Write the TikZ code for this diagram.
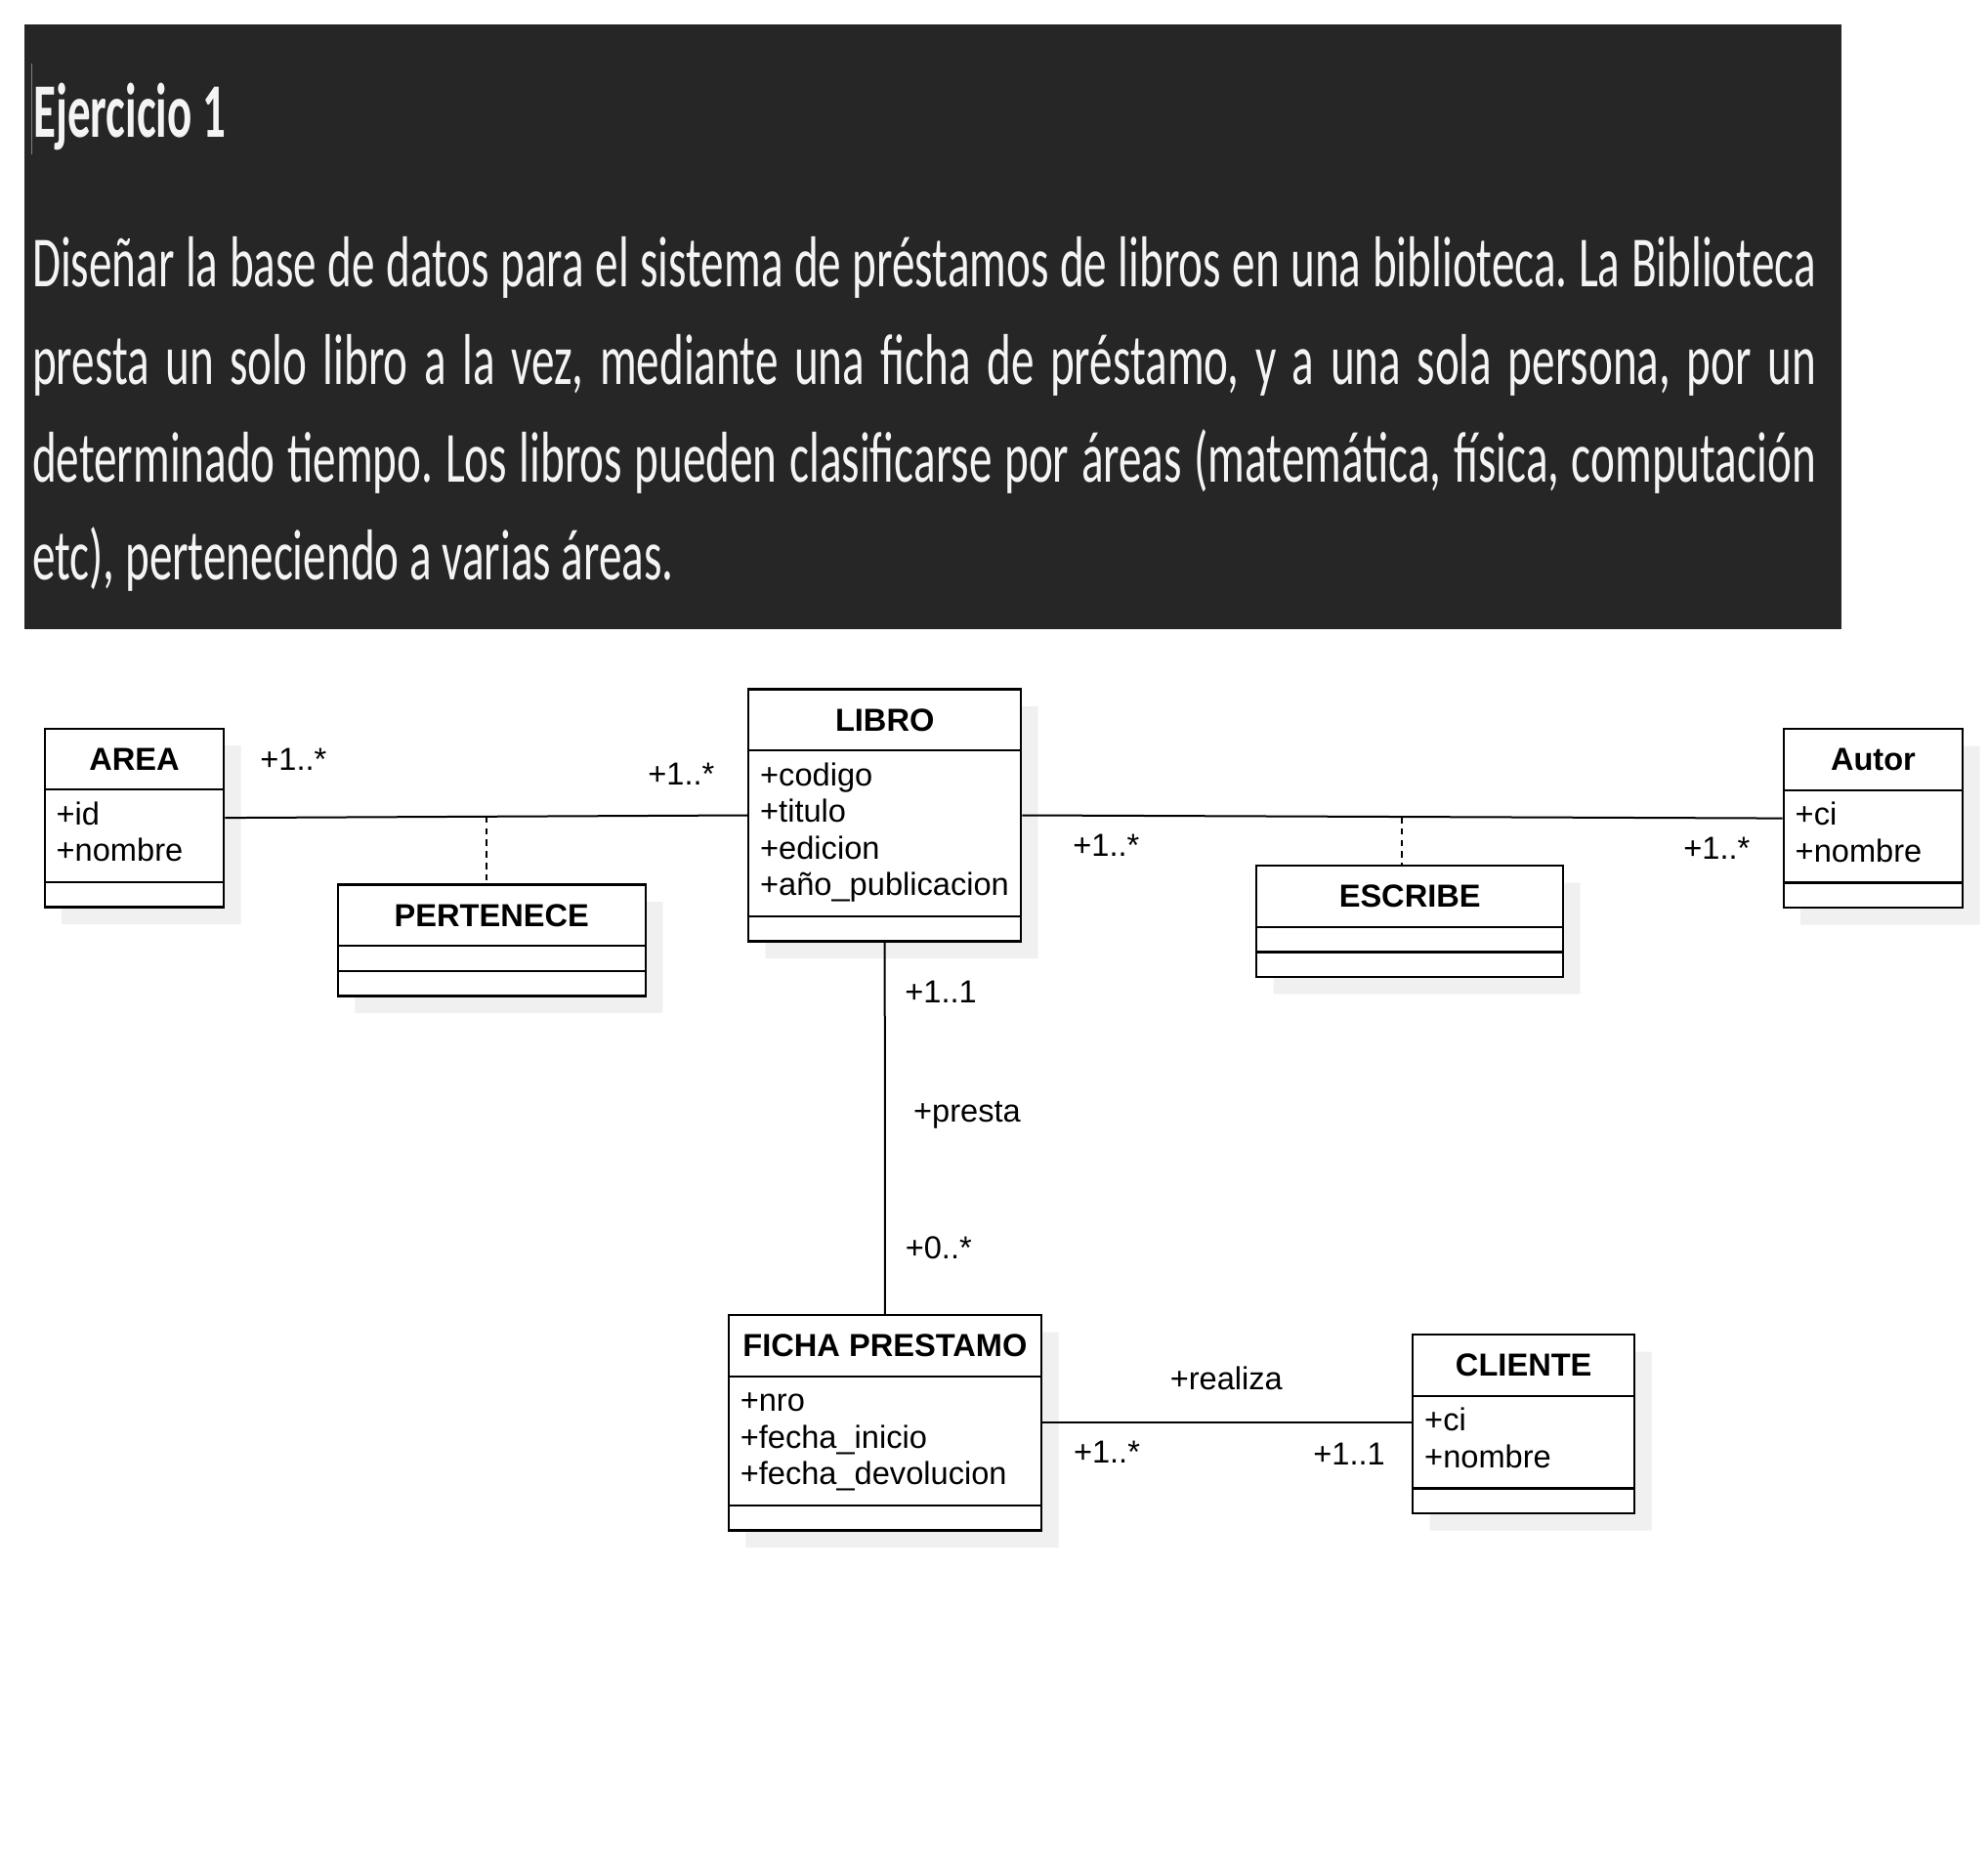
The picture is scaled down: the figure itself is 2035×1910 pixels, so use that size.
\documentclass[tikz,border=0pt]{standalone}
\usepackage{fontspec}
\setmainfont{Liberation Sans}
\newfontfamily\enunfont[FakeStretch=0.64]{Carlito}
\newfontfamily\titfont[FakeStretch=0.595]{Carlito}
\usetikzlibrary{shapes.multipart,shadows,calc}
\definecolor{headbg}{HTML}{262626}
\definecolor{headtxt}{HTML}{F4F4F4}
\newcommand{\ttlstrut}{\rule[-5.15pt]{0pt}{21.55pt}}
\newcommand{\emptystrut}{\rule{0pt}{3.15pt}}

\begin{document}
\begin{tikzpicture}[x=0.5pt,y=-0.5pt,
  umlclass/.style={rectangle split,rectangle split parts=3,
    rectangle split part align={center,left,left},
    draw,line width=1.2pt,fill=white,anchor=north west,align=left,
    inner xsep=6pt,inner ysep=4.25pt,
    font=\fontsize{16.3}{18.8}\selectfont,
    general shadow={fill=black!6,shadow xshift=8.75pt,shadow yshift=-8.75pt}},
  mult/.style={anchor=base west,inner sep=0pt,font=\fontsize{16.3}{18.8}\selectfont},
  assoc/.style={line width=1pt},
  assocdash/.style={line width=1pt,dash pattern=on 3.3pt off 2.6pt}
]
\fill[white] (0,0) rectangle (2035,1910);
\useasboundingbox (0,0) rectangle (2035,1910);

% ---- enunciado ----
\fill[headbg] (24.7,24.7) rectangle (1884.5,644);
\draw[gray,line width=0.7pt] (32.7,65) -- (32.7,158);
\node[anchor=base west,inner sep=0pt,text=headtxt,
  font=\titfont\bfseries\fontsize{39.5}{40}\selectfont] (titulo) at (34,140.5) {Ejercicio 1};
\node[anchor=base west,inner sep=0pt,text=headtxt,text width=913pt,align=justify,
  font=\enunfont\frenchspacing\fontsize{36.85}{49.9}\selectfont] (enunciado) at (32.7,294)
  {Diseñar la base de datos para el sistema de préstamos de libros en una biblioteca. La Biblioteca\linebreak
   presta un solo libro a la vez, mediante una ficha de préstamo, y a una sola persona, por un\linebreak
   determinado tiempo. Los libros pueden clasificarse por áreas (matemática, física, computación\linebreak
   etc), perteneciendo a varias áreas.};

% ---- clases ----
\node[umlclass,minimum width=91.75pt] (area) at (44.5,744.5)
  {\ttlstrut\textbf{AREA}\nodepart{second}\strut+id\\+nombre\strut
   \nodepart{third}\emptystrut};
\node[umlclass,minimum width=139.5pt] (libro) at (765,704.3)
  {\ttlstrut\textbf{LIBRO}\nodepart{second}\strut+codigo\\+titulo\\+edicion\\+año\_publicacion\strut
   \nodepart{third}\emptystrut};
\node[umlclass,minimum width=91.75pt] (autor) at (1824.5,745)
  {\ttlstrut\textbf{Autor}\nodepart{second}\strut+ci\\+nombre\strut
   \nodepart{third}\emptystrut};
\node[umlclass,minimum width=157.5pt] (pertenece) at (344.6,904.3)
  {\ttlstrut\textbf{PERTENECE}\nodepart{second}\emptystrut\nodepart{third}\emptystrut};
\node[umlclass,minimum width=157pt] (escribe) at (1285,885)
  {\ttlstrut\textbf{ESCRIBE}\nodepart{second}\emptystrut\nodepart{third}\emptystrut};
\node[umlclass,minimum width=160.1pt] (ficha) at (744.6,1345)
  {\ttlstrut\textbf{FICHA PRESTAMO}\nodepart{second}\strut+nro\\+fecha\_inicio\\+fecha\_devolucion\strut
   \nodepart{third}\emptystrut};
\node[umlclass,minimum width=113.5pt] (cliente) at (1445,1365)
  {\ttlstrut\textbf{CLIENTE}\nodepart{second}\strut+ci\\+nombre\strut
   \nodepart{third}\emptystrut};

% ---- asociaciones ----
\draw[assoc] (area.east) -- (libro.west);
\coordinate (mpert) at ($(area.east)!0.5!(libro.west)$);
\draw[assocdash] (mpert) -- (mpert |- pertenece.north);

\draw[assoc] (libro.east) -- (autor.west);
\coordinate (mescr) at ($(libro.east)!0.5!(autor.west)$);
\draw[assocdash] (mescr) -- (mescr |- escribe.north);

\draw[assoc] (libro.south) -- (ficha.north);
\draw[assoc] (ficha.east) -- (ficha.east -| cliente.west);

% ---- multiplicidades y roles ----
\node[mult] (m1) at (266,788)    {+1..*};
\node[mult] (m2) at (663,803)    {+1..*};
\node[mult] (m3) at (1098,876.7) {+1..*};
\node[mult] (m4) at (1723,879)   {+1..*};
\node[mult] (m5) at (926,1026.5) {+1..1};
\node[mult] (r1) at (934.7,1148) {+presta};
\node[mult] (m6) at (926.4,1288.5) {+0..*};
\node[mult] (r2) at (1197.4,1422) {+realiza};
\node[mult] (m7) at (1098.6,1497.7) {+1..*};
\node[mult] (m8) at (1344,1499.8) {+1..1};
\end{tikzpicture}
\end{document}
